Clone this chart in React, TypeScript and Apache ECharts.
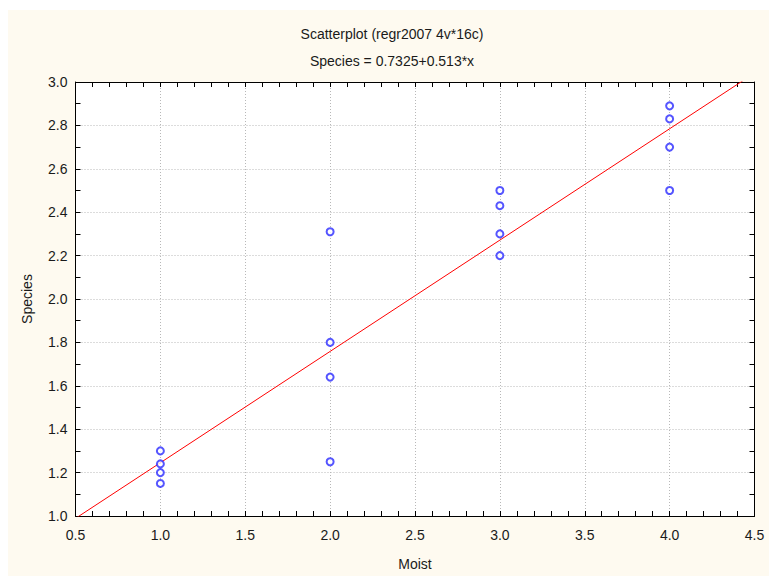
import React, { useEffect, useRef } from "react";
import * as echarts from "echarts";

const titleLine1 = "Scatterplot (regr2007 4v*16c)";
const titleLine2 = "Species = 0.7325+0.513*x";
const xName = "Moist";
const yName = "Species";

const moist: number[] = [1, 1, 1, 1, 2, 2, 2, 2, 3, 3, 3, 3, 4, 4, 4, 4];
const species: number[] = [1.3, 1.24, 1.2, 1.15, 2.31, 1.8, 1.64, 1.25, 2.5, 2.43, 2.3, 2.2, 2.89, 2.83, 2.7, 2.5];

const intercept = 0.7325;
const slope = 0.513;
const xRange = [0.5, 4.5];
const yRange = [1.0, 3.0];

const FONT = "'Liberation Sans', Arial, sans-serif";
const TXT = "#1a1a1a";

export default function App() {
  const ref = useRef<HTMLDivElement>(null);
  useEffect(() => {
    if (!ref.current) return;
    const chart = echarts.init(ref.current, undefined, { renderer: "svg" });
    const points = moist.map((x, i) => [x, species[i]]);
    const fitLine = xRange.map((x) => [x, intercept + slope * x]);
    const baseAxis = {
      axisLine: { show: true, onZero: false, lineStyle: { color: "#000", width: 1 } },
      axisTick: { show: true, inside: true, length: 5, lineStyle: { color: "#000" } },
    };
    chart.setOption({
      animation: false,
      backgroundColor: "#ffffff",
      textStyle: { fontFamily: FONT },
      graphic: [
        { type: "rect", z: -10, shape: { x: 8, y: 10, width: 761, height: 566 }, style: { fill: "#fefaf0" }, silent: true },
        { type: "text", x: 392, y: 34, style: { text: titleLine1, fill: TXT, font: `14px ${FONT}`, textAlign: "center", textVerticalAlign: "middle" } },
        { type: "text", x: 392, y: 61, style: { text: titleLine2, fill: TXT, font: `14px ${FONT}`, textAlign: "center", textVerticalAlign: "middle" } },
      ],
      grid: { left: 75.5, right: 14.5, top: 82, bottom: 53.5, show: true, backgroundColor: "#ffffff", borderWidth: 0 },
      xAxis: [
        {
          ...baseAxis,
          type: "value",
          min: xRange[0],
          max: xRange[1],
          interval: 0.5,
          position: "bottom",
          minorTick: { show: true, splitNumber: 5, length: 5, lineStyle: { color: "#000" } },
          axisLabel: { color: TXT, fontSize: 14, margin: 12, formatter: (v: number) => v.toFixed(1) },
          splitLine: { show: true, lineStyle: { type: [1, 2], color: "#b8b8b8" } },
          name: xName,
          nameLocation: "middle",
          nameGap: 41,
          nameTextStyle: { color: TXT, fontSize: 14 },
        },
        {
          ...baseAxis,
          type: "value",
          min: xRange[0],
          max: xRange[1],
          interval: 0.5,
          position: "top",
          minorTick: { show: true, splitNumber: 5, length: 5, lineStyle: { color: "#000" } },
          axisLabel: { show: false },
          splitLine: { show: false },
        },
      ],
      yAxis: [
        {
          ...baseAxis,
          type: "value",
          min: yRange[0],
          max: yRange[1],
          interval: 0.2,
          position: "left",
          minorTick: { show: true, splitNumber: 2, length: 5, lineStyle: { color: "#000" } },
          axisLabel: { color: TXT, fontSize: 14, margin: 8, formatter: (v: number) => v.toFixed(1) },
          splitLine: { show: true, lineStyle: { type: [1, 2], color: "#b8b8b8" } },
          name: yName,
          nameLocation: "middle",
          nameGap: 42,
          nameRotate: 90,
          nameTextStyle: { color: TXT, fontSize: 14 },
        },
        {
          ...baseAxis,
          type: "value",
          min: yRange[0],
          max: yRange[1],
          interval: 0.2,
          position: "right",
          minorTick: { show: true, splitNumber: 2, length: 5, lineStyle: { color: "#000" } },
          axisLabel: { show: false },
          splitLine: { show: false },
        },
      ],
      series: [
        {
          type: "line",
          data: fitLine,
          xAxisIndex: 0,
          yAxisIndex: 0,
          showSymbol: false,
          symbol: "none",
          clip: true,
          lineStyle: { color: "#ff0000", width: 1 },
          z: 2,
        },
        {
          type: "scatter",
          data: points,
          xAxisIndex: 0,
          yAxisIndex: 0,
          symbol: "emptyCircle",
          symbolSize: 7,
          itemStyle: { color: "#2a2aff", borderColor: "#2a2aff", borderWidth: 1 },
          z: 3,
        },
      ],
    });
    return () => chart.dispose();
  }, []);
  return (
    <div
      ref={ref}
      style={{ position: "absolute", left: 0, top: 0, width: 769, height: 576 }}
    />
  );
}
